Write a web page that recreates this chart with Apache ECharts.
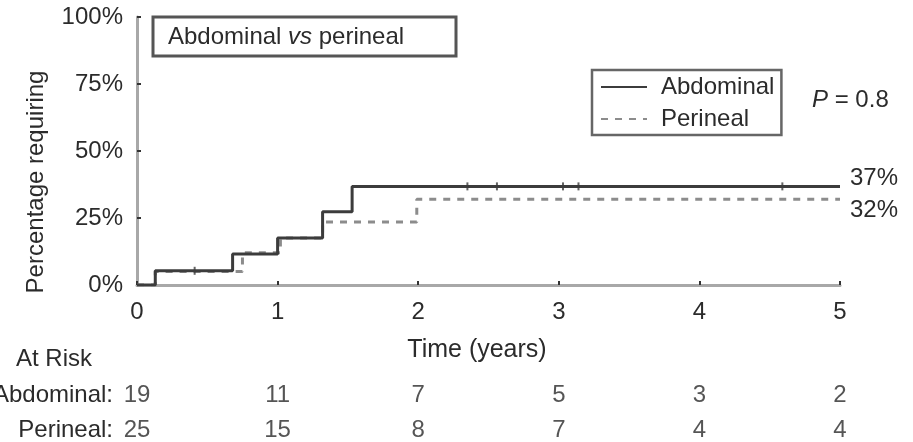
<!DOCTYPE html>
<html>
<head>
<meta charset="utf-8">
<script src="https://cdn.jsdelivr.net/npm/echarts@6/dist/echarts.min.js"></script>
<style>
html,body{margin:0;padding:0;background:#fff;}
#chart{width:913px;height:442px;}
</style>
</head>
<body>
<div id="chart"></div>
<script>
// ---- data ----
const yearTicks = [0, 1, 2, 3, 4, 5];
const percentTicks = [0, 25, 50, 75, 100];
const abdominalSteps = [[0, 0], [0.13, 5.3], [0.68, 11.6], [1.0, 17.5], [1.32, 27.3], [1.53, 36.8], [5, 36.8]];
const perinealSteps = [[0, 0], [0.13, 5], [0.75, 12], [1.02, 17.5], [1.32, 23.5], [1.99, 32], [5, 32]];
const abdominalCensored = [[0.41, 5.3], [2.35, 36.8], [2.56, 36.8], [3.03, 36.8], [3.14, 36.8], [4.59, 36.8]];
const riskRows = ['Abdominal:', 'Perineal:'];
const atRiskAbdominal = [19, 11, 7, 5, 3, 2];
const atRiskPerineal = [25, 15, 8, 7, 4, 4];
const endPercents = { Abdominal: 37, Perineal: 32 };

const FONT = 'Liberation Sans, Arial, sans-serif';
const TXT = '#2b2b2b';
const FS = 24;

const chart = echarts.init(document.getElementById('chart'), null, { renderer: 'canvas' });

const option = {
  animation: false,
  backgroundColor: '#fff',
  textStyle: { fontFamily: FONT, color: TXT },
  grid: [
    { left: 137, right: 73, top: 17, bottom: 157, containLabel: false, outerBoundsMode: 'none' },
    { left: 137, right: 73, top: 378, height: 70, containLabel: false, outerBoundsMode: 'none' }
  ],
  xAxis: [
    {
      gridIndex: 0, type: 'value', min: 0, max: 5, interval: 1,
      axisLine: { show: true, lineStyle: { color: '#a8a8a8', width: 3 } },
      axisTick: { show: true, inside: true, length: 4, lineStyle: { color: '#333', width: 2 } },
      axisLabel: { fontSize: FS, color: TXT, fontFamily: FONT, margin: 15,
        formatter: v => yearTicks.includes(v) ? String(v) : '' },
      splitLine: { show: false }
    },
    {
      gridIndex: 1, type: 'value', min: 0, max: 5, interval: 1, show: false
    }
  ],
  yAxis: [
    {
      gridIndex: 0, type: 'value', min: 0, max: 100, interval: 25,
      axisLine: { show: true, lineStyle: { color: '#a8a8a8', width: 3 } },
      axisTick: { show: true, inside: true, length: 4, lineStyle: { color: '#333', width: 2 } },
      axisLabel: { fontSize: FS, color: TXT, fontFamily: FONT, margin: 14,
        formatter: v => percentTicks.includes(v) ? v + '%' : '' },
      splitLine: { show: false }
    },
    {
      gridIndex: 1, type: 'category', data: riskRows,
      inverse: true,
      axisLine: { show: false }, axisTick: { show: false },
      axisLabel: { fontSize: FS, color: TXT, fontFamily: FONT, margin: 24, interval: 0 }
    }
  ],
  legend: {
    orient: 'vertical',
    left: 592, top: 70,
    padding: [5, 7, 4, 8],
    borderColor: '#666', borderWidth: 2.5,
    itemWidth: 46, itemHeight: 14, itemGap: 8,
    itemStyle: { opacity: 0 },
    textStyle: { fontSize: FS, color: TXT, fontFamily: FONT, padding: [0, 0, 0, 9] },
    data: ['Abdominal', 'Perineal']
  },
  series: [
    {
      name: 'Abdominal', type: 'line', step: 'end',
      xAxisIndex: 0, yAxisIndex: 0,
      data: abdominalSteps, symbol: 'none',
      lineStyle: { color: '#3c3c3c', width: 3 },
      itemStyle: { color: '#3c3c3c' },
      endLabel: { show: true, formatter: () => endPercents.Abdominal + '%',
        fontSize: FS, color: TXT, fontFamily: FONT, distance: 10, offset: [0, -8] },
      z: 3
    },
    {
      name: 'Perineal', type: 'line', step: 'end',
      xAxisIndex: 0, yAxisIndex: 0,
      data: perinealSteps, symbol: 'none',
      lineStyle: { color: '#8c8c8c', width: 3, type: [7, 7] },
      itemStyle: { color: '#8c8c8c' },
      endLabel: { show: true, formatter: () => endPercents.Perineal + '%',
        fontSize: FS, color: TXT, fontFamily: FONT, distance: 10, offset: [0, 11] },
      z: 2
    },
    {
      name: 'AbdominalCensor', type: 'scatter',
      xAxisIndex: 0, yAxisIndex: 0,
      data: abdominalCensored, symbol: 'rect', symbolSize: [2, 8],
      itemStyle: { color: '#3c3c3c' }, silent: true, z: 4
    },
    {
      name: 'riskA', type: 'scatter', xAxisIndex: 1, yAxisIndex: 1,
      data: yearTicks.map((t, i) => [t, riskRows[0], atRiskAbdominal[i]]),
      symbolSize: 0,
      label: { show: true, position: 'inside', formatter: p => String(p.data[2]),
        fontSize: FS, color: TXT, fontFamily: FONT }
    },
    {
      name: 'riskP', type: 'scatter', xAxisIndex: 1, yAxisIndex: 1,
      data: yearTicks.map((t, i) => [t, riskRows[1], atRiskPerineal[i]]),
      symbolSize: 0,
      label: { show: true, position: 'inside', formatter: p => String(p.data[2]),
        fontSize: FS, color: TXT, fontFamily: FONT }
    }
  ],
  graphic: [
    {
      type: 'rect', shape: { x: 153, y: 17, width: 303, height: 39 },
      style: { fill: '#fff', stroke: '#555', lineWidth: 3 }, z: 10
    },
    {
      type: 'text', x: 168, y: 37, z: 11,
      style: {
        text: '{n|Abdominal }{i|vs}{n| perineal}',
        verticalAlign: 'middle',
        rich: {
          n: { fontSize: FS, fontFamily: FONT, fill: TXT },
          i: { fontSize: FS, fontFamily: FONT, fill: TXT, fontStyle: 'italic' }
        }
      }
    },
    {
      type: 'text', x: 812, y: 100, z: 11,
      style: {
        text: '{i|P}{n| = 0.8}',
        verticalAlign: 'middle',
        rich: {
          n: { fontSize: FS, fontFamily: FONT, fill: TXT },
          i: { fontSize: FS, fontFamily: FONT, fill: TXT, fontStyle: 'italic' }
        }
      }
    },
    {
      type: 'text', x: 36, y: 182, rotation: Math.PI / 2, z: 11,
      style: { text: 'Percentage requiring', fontSize: FS, fontFamily: FONT, fill: TXT,
        align: 'center', verticalAlign: 'middle' }
    },
    {
      type: 'text', x: 477, y: 350, z: 11,
      style: { text: 'Time (years)', fontSize: 25, fontFamily: FONT, fill: TXT,
        align: 'center', verticalAlign: 'middle' }
    },
    {
      type: 'text', x: 16, y: 359, z: 11,
      style: { text: 'At Risk', fontSize: FS, fontFamily: FONT, fill: TXT,
        align: 'left', verticalAlign: 'middle' }
    }
  ]
};

chart.setOption(option);
</script>
</body>
</html>
